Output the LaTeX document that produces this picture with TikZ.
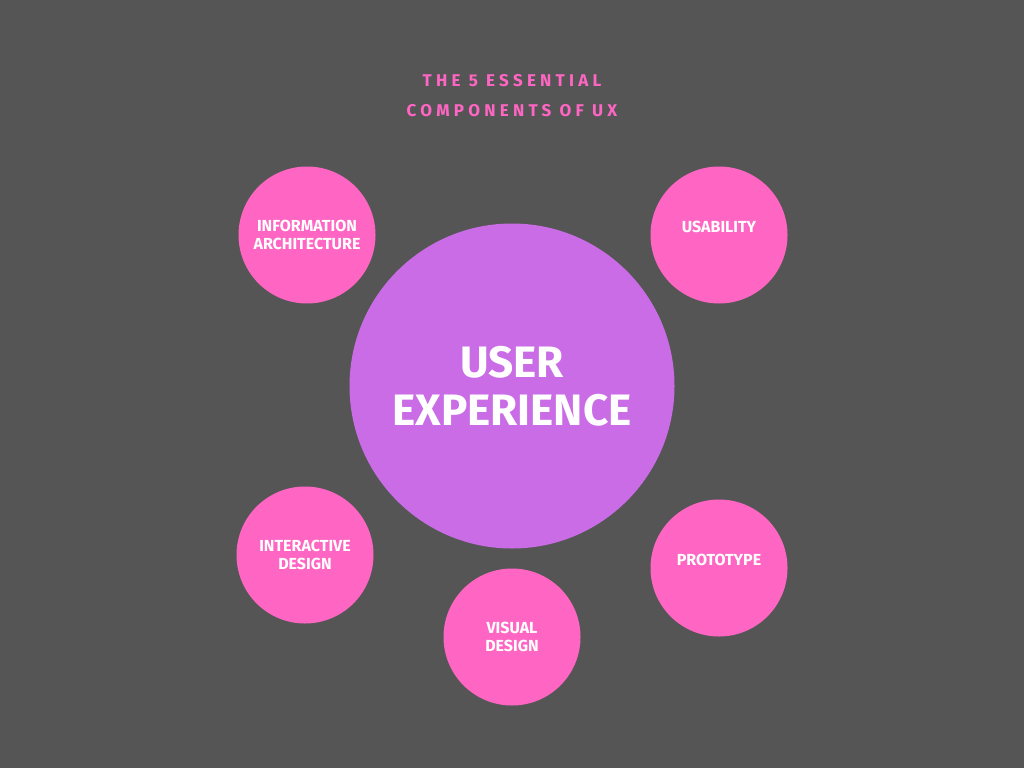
\documentclass[tikz,border=0pt]{standalone}
\usepackage{fontspec}
\setmainfont{Fira Sans}
\newfontfamily\spaced[LetterSpace=25]{Fira Sans}
\definecolor{bg}{HTML}{555555}
\definecolor{pk}{HTML}{FF66C4}
\definecolor{pu}{HTML}{C96CE6}
\begin{document}
\begin{tikzpicture}[x=1pt,y=-1pt,
 small/.style={circle,fill=pk,minimum size=137pt,inner sep=0pt,text=white,font=\bfseries\fontsize{16}{18}\selectfont,align=center}]
\fill[bg] (0,0) rectangle (1024,768);
\useasboundingbox (0,0) rectangle (1024,768);
\node[circle,fill=pu,minimum size=325pt,inner sep=0pt,text=white,font=\bfseries\fontsize{44}{48}\selectfont,align=center] (ux) at (512,386) {USER\\EXPERIENCE};
\node[small] (ia) at (307,235) {INFORMATION\\ARCHITECTURE};
\node[small] (us) at (719,235) {USABILITY\\[-2pt]\mbox{}};
\node[small] (id) at (305,555) {INTERACTIVE\\DESIGN};
\node[small] (vd) at (512,637) {VISUAL\\DESIGN};
\node[small] (pr) at (719,568) {PROTOTYPE\\[-2pt]\mbox{}};
\node[text=pk,font=\spaced\bfseries\fontsize{17}{30}\selectfont,align=center] (t) at (512,96) {THE 5 ESSENTIAL\\COMPONENTS OF UX};
\end{tikzpicture}
\end{document}
